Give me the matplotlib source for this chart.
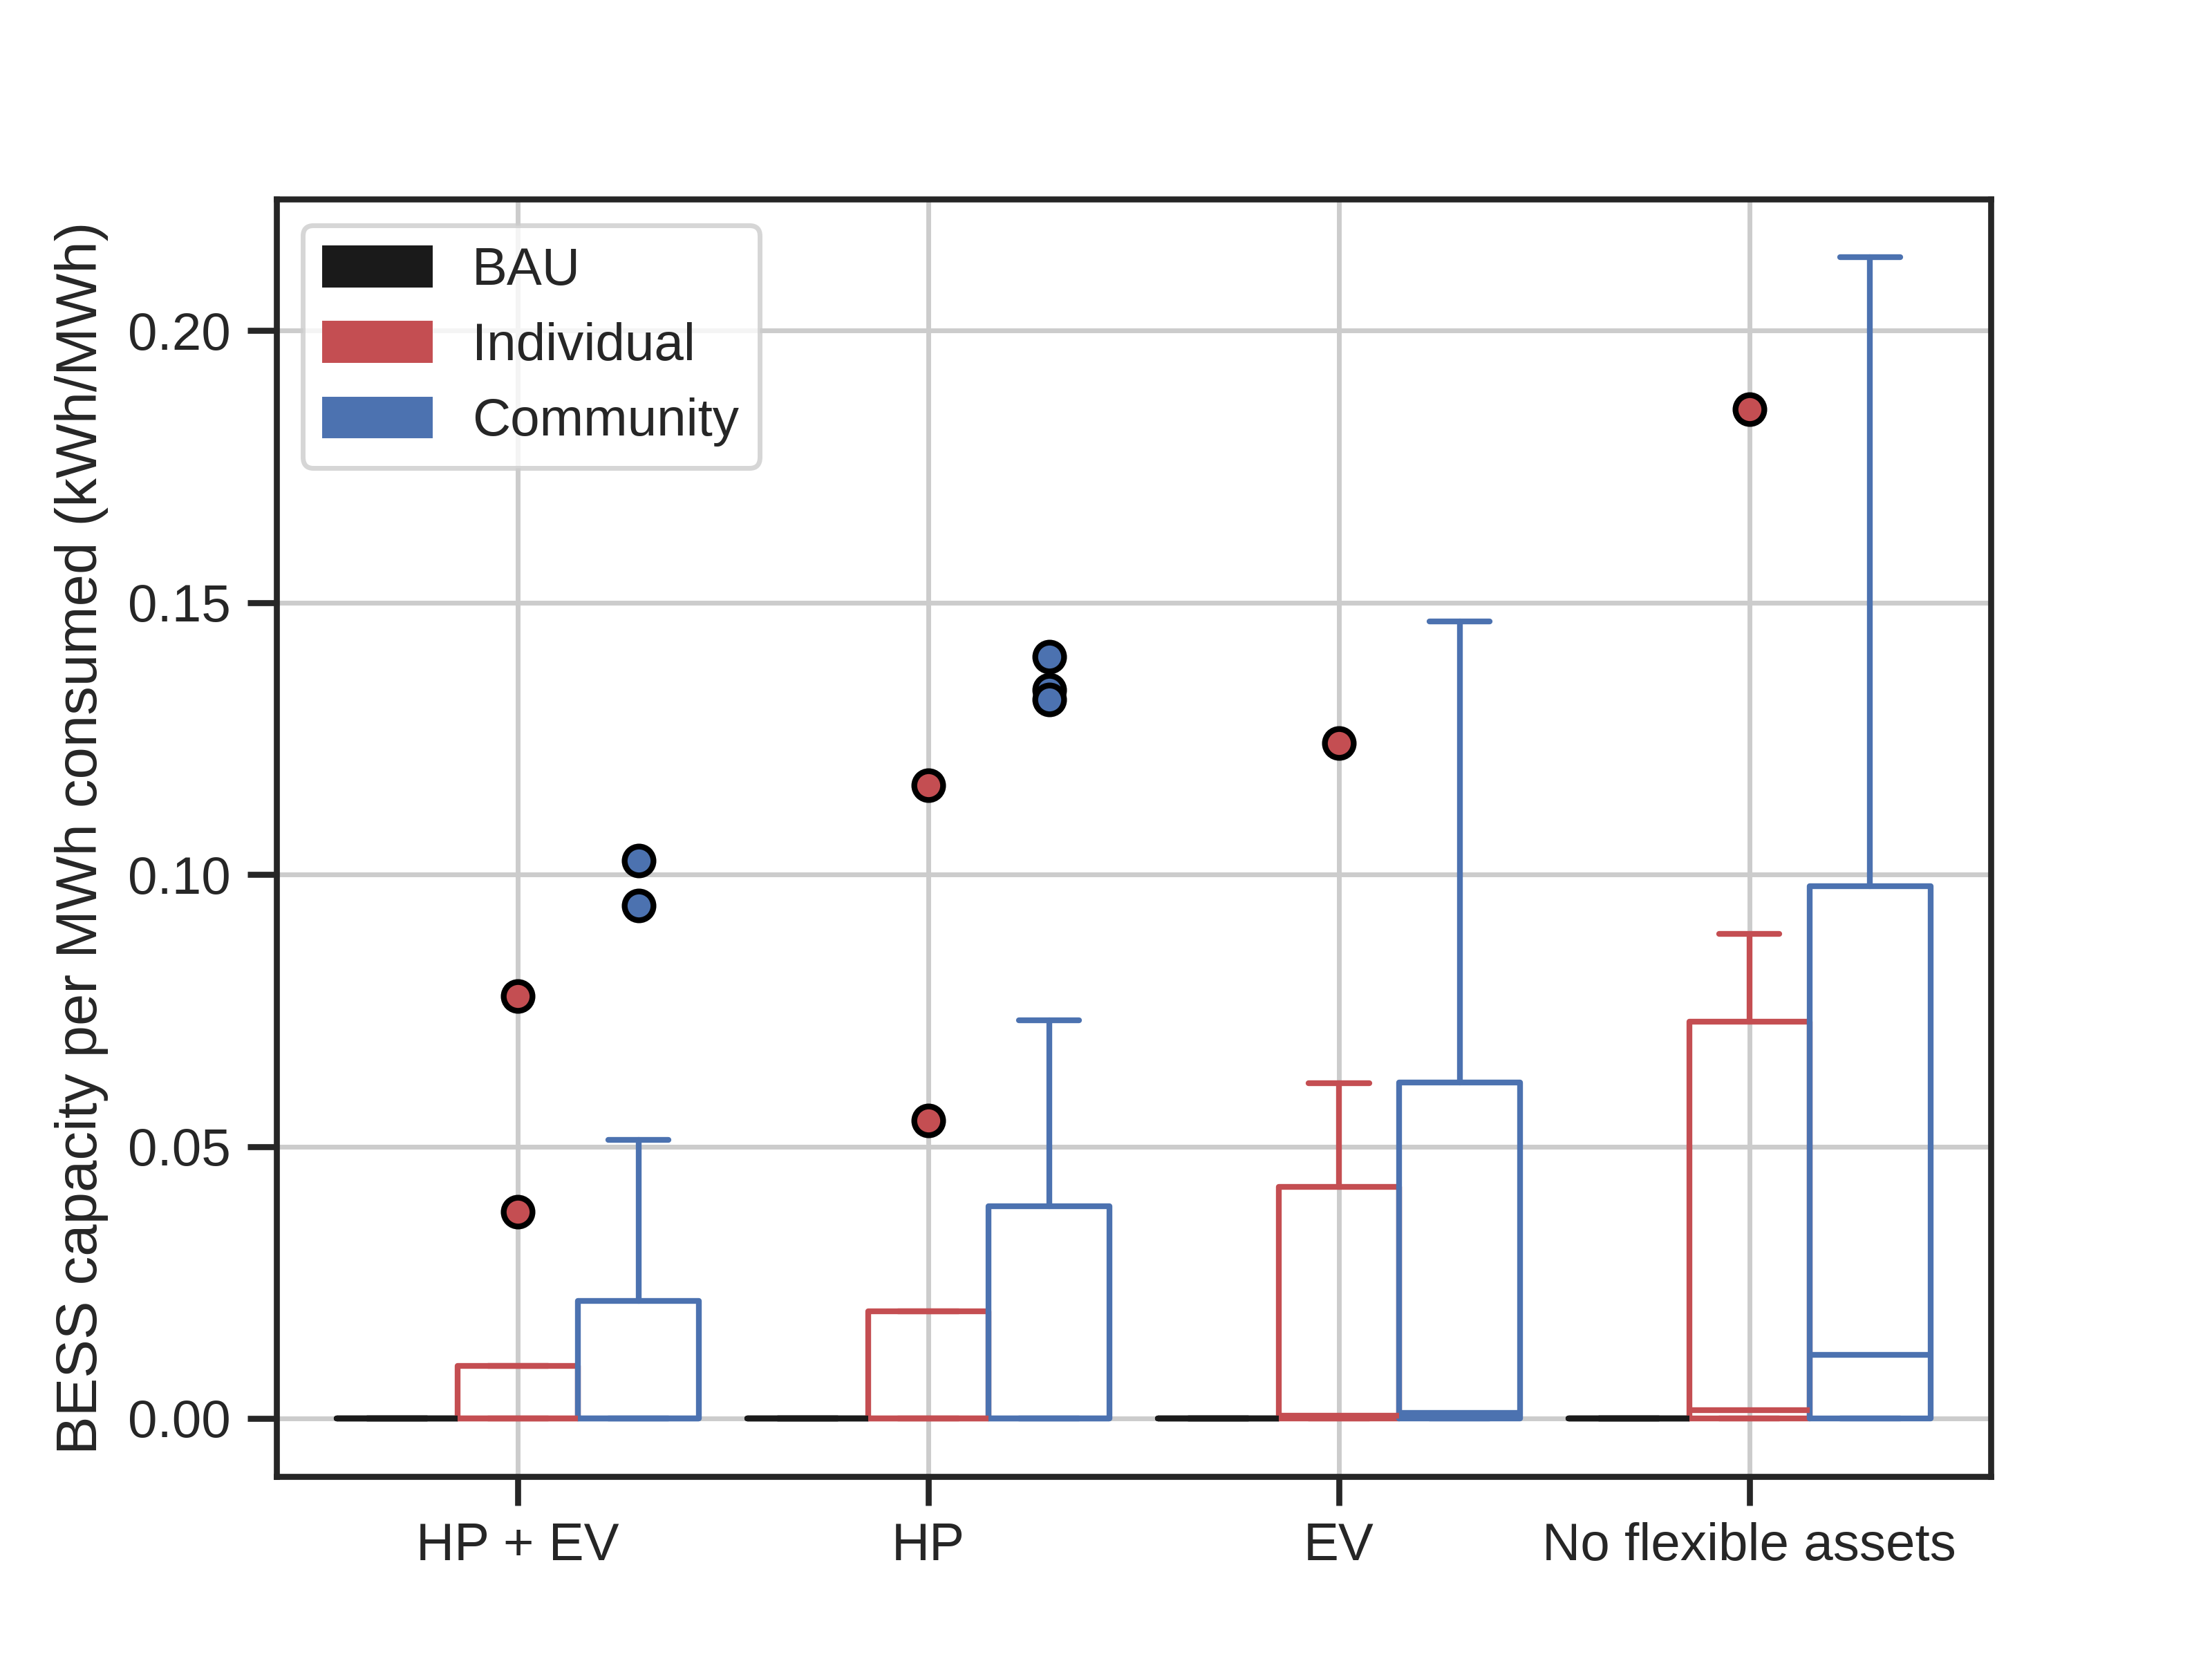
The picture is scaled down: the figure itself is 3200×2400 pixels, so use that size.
import matplotlib
matplotlib.use("Agg")
import matplotlib.pyplot as plt
import matplotlib.patches as mpatches
import seaborn as sns

# Box statistics (kWh/MWh)
categories = ["HP + EV", "HP", "EV", "No flexible assets"]
groups = ["BAU", "Individual", "Community"]
colors = ["#1a1a1a", "#C44E52", "#4C72B0"]

# per group: one value per category
q1 = {
    "BAU": [0.0, 0.0, 0.0, 0.0],
    "Individual": [0.0, 0.0, 0.0, 0.0],
    "Community": [0.0, 0.0, 0.0, 0.0],
}
med = {
    "BAU": [0.0, 0.0, 0.0, 0.0],
    "Individual": [0.0, 0.0, 0.0005, 0.0015],
    "Community": [0.0, 0.0, 0.001, 0.0117],
}
q3 = {
    "BAU": [0.0, 0.0, 0.0, 0.0],
    "Individual": [0.0096, 0.0197, 0.0426, 0.0730],
    "Community": [0.0216, 0.0390, 0.0618, 0.0979],
}
whis_lo = {
    "BAU": [0.0, 0.0, 0.0, 0.0],
    "Individual": [0.0, 0.0, 0.0, 0.0],
    "Community": [0.0, 0.0, 0.0, 0.0],
}
whis_hi = {
    "BAU": [0.0, 0.0, 0.0, 0.0],
    "Individual": [0.0096, 0.0197, 0.0616, 0.0891],
    "Community": [0.0512, 0.0732, 0.1465, 0.2135],
}
outliers = {
    "BAU": [[], [], [], []],
    "Individual": [[0.0777, 0.0380], [0.1164, 0.0548], [0.1242], [0.1855]],
    "Community": [[0.1025, 0.0943], [0.1400, 0.1340, 0.1322], [], []],
}

sns.set_theme(style="ticks", rc={"axes.grid": True})
plt.rcParams["font.family"] = ["Liberation Sans", "DejaVu Sans"]

fig, ax = plt.subplots(figsize=(6.4, 4.8), dpi=500)
fig.subplots_adjust(left=0.125, right=0.9, bottom=0.11, top=0.88)

width = 0.294
offsets = [-width, 0.0, width]

for g, name in enumerate(groups):
    col = colors[g]
    stats = []
    for i in range(len(categories)):
        stats.append({
            "q1": q1[name][i], "med": med[name][i], "q3": q3[name][i],
            "whislo": whis_lo[name][i], "whishi": whis_hi[name][i],
            "fliers": outliers[name][i],
        })
    pos = [i + offsets[g] for i in range(len(categories))]
    line = dict(color=col, linewidth=1.2)
    ax.bxp(stats, positions=pos, widths=width, manage_ticks=False,
           boxprops=line, whiskerprops=line, capprops=line, medianprops=line,
           flierprops=dict(marker="o", markerfacecolor=col, markeredgecolor="black",
                           markersize=6, markeredgewidth=1.2, linestyle="none"))

ax.set_xticks(range(len(categories)))
ax.set_xticklabels(categories)
ax.set_xlim(-0.588, 3.588)
ax.set_ylabel("BESS capacity per MWh consumed (kWh/MWh)", fontsize=12)
ax.tick_params(labelsize=11)
ax.grid(True, color="#cccccc", linewidth=1.0)
ax.set_axisbelow(True)

handles = [mpatches.Patch(color=c, label=n) for c, n in zip(colors, groups)]
ax.legend(handles=handles, loc="upper left", fontsize=11, frameon=True)

fig.savefig("out.png", dpi=500)
